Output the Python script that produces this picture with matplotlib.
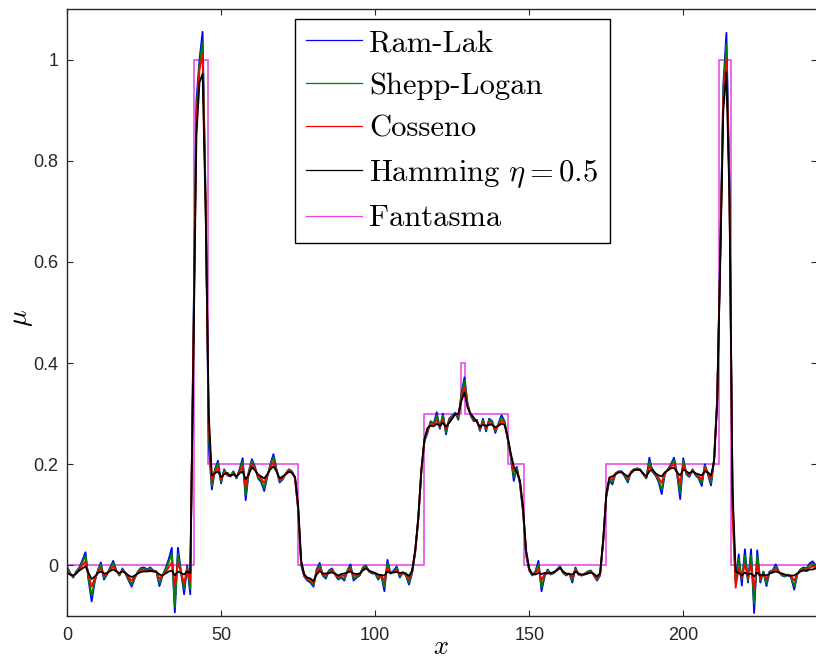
"""
Perfil central da reconstrucao (FBP) com diferentes filtros vs fantasma.
Saida: out.png
"""
import numpy as np
import matplotlib
matplotlib.use("Agg")
import matplotlib.pyplot as plt

plt.rcParams["mathtext.fontset"] = "cm"

# posicoes das amostras do perfil
x = np.arange(0, 244)

# Hamming eta = 0.5 (preto)
hamming = [
    -0.015, -0.018, -0.020, -0.016, -0.010, -0.006, -0.002, -0.015, -0.027, -0.022,
    -0.015, -0.012, -0.016, -0.015, -0.011, -0.008, -0.012, -0.015, -0.012, -0.015,
    -0.020, -0.023, -0.020, -0.016, -0.013, -0.012, -0.012, -0.011, -0.012, -0.013,
    -0.018, -0.020, -0.016, -0.012, -0.010, -0.020, -0.012, -0.015, -0.018, -0.012,
    -0.015, 0.400, 0.850, 0.955, 0.972, 0.700, 0.300, 0.178, 0.182, 0.186,
    0.175, 0.180, 0.183, 0.177, 0.180, 0.176, 0.182, 0.186, 0.170, 0.180,
    0.194, 0.188, 0.180, 0.176, 0.172, 0.180, 0.190, 0.196, 0.186, 0.172,
    0.176, 0.180, 0.185, 0.183, 0.175, 0.120, 0.010, -0.018, -0.024, -0.026,
    -0.031, -0.018, -0.011, -0.016, -0.016, -0.015, -0.014, -0.016, -0.020, -0.017,
    -0.016, -0.014, -0.012, -0.016, -0.017, -0.016, -0.010, -0.006, -0.010, -0.013,
    -0.015, -0.018, -0.019, -0.020, -0.012, -0.015, -0.014, -0.013, -0.015, -0.014,
    -0.016, -0.021, -0.010, 0.030, 0.095, 0.190, 0.250, 0.272, 0.276, 0.275,
    0.280, 0.276, 0.282, 0.274, 0.282, 0.290, 0.299, 0.300, 0.325, 0.342,
    0.312, 0.300, 0.292, 0.284, 0.274, 0.278, 0.276, 0.278, 0.278, 0.273,
    0.276, 0.280, 0.278, 0.255, 0.222, 0.196, 0.184, 0.168, 0.115, 0.030,
    -0.006, -0.017, -0.018, -0.015, -0.017, -0.015, -0.016, -0.015, -0.013, -0.010,
    -0.005, -0.012, -0.016, -0.017, -0.018, -0.012, -0.016, -0.018, -0.018, -0.016,
    -0.014, -0.017, -0.022, -0.015, 0.050, 0.140, 0.174, 0.176, 0.180, 0.184,
    0.184, 0.180, 0.176, 0.182, 0.188, 0.189, 0.188, 0.182, 0.176, 0.186,
    0.190, 0.182, 0.178, 0.176, 0.184, 0.188, 0.192, 0.193, 0.184, 0.178,
    0.190, 0.186, 0.182, 0.186, 0.182, 0.180, 0.178, 0.186, 0.184, 0.178,
    0.205, 0.320, 0.600, 0.900, 0.975, 0.720, 0.150, -0.012, -0.015, -0.020,
    -0.014, -0.018, -0.016, -0.022, -0.014, -0.020, -0.018, -0.020, -0.016, -0.014,
    -0.012, -0.014, -0.016, -0.018, -0.020, -0.020, -0.020, -0.016, -0.012, -0.010,
    -0.011, -0.008, -0.008, -0.006,
]

# Ram-Lak (azul)
ram_lak = [
    -0.002, -0.015, -0.024, -0.012, -0.004, 0.010, 0.026, -0.030, -0.071, -0.032,
    -0.010, 0.006, -0.028, -0.018, -0.004, 0.009, -0.010, -0.020, -0.006, -0.016,
    -0.030, -0.042, -0.025, -0.012, -0.005, -0.004, -0.008, -0.004, -0.010, -0.012,
    -0.041, -0.020, -0.006, 0.012, 0.035, -0.093, 0.035, -0.012, -0.057, 0.000,
    -0.057, 0.450, 0.920, 1.000, 1.055, 0.720, 0.240, 0.150, 0.190, 0.207,
    0.162, 0.190, 0.178, 0.176, 0.186, 0.172, 0.190, 0.212, 0.129, 0.186,
    0.210, 0.195, 0.172, 0.165, 0.147, 0.175, 0.200, 0.220, 0.190, 0.164,
    0.170, 0.182, 0.190, 0.186, 0.172, 0.110, 0.000, -0.022, -0.030, -0.034,
    -0.042, -0.008, 0.005, -0.020, -0.026, -0.010, -0.006, -0.018, -0.028, -0.024,
    -0.030, -0.010, 0.002, -0.030, -0.024, -0.020, -0.004, 0.000, -0.012, -0.016,
    -0.016, -0.028, -0.020, -0.051, 0.011, -0.016, -0.010, -0.002, -0.024, -0.014,
    -0.020, -0.038, -0.015, 0.025, 0.090, 0.185, 0.245, 0.262, 0.285, 0.280,
    0.303, 0.270, 0.300, 0.259, 0.290, 0.296, 0.302, 0.288, 0.340, 0.372,
    0.320, 0.296, 0.285, 0.288, 0.266, 0.290, 0.265, 0.290, 0.285, 0.262,
    0.280, 0.297, 0.285, 0.250, 0.215, 0.167, 0.195, 0.160, 0.105, 0.020,
    -0.010, -0.020, -0.012, 0.009, -0.051, -0.022, -0.008, -0.018, -0.015, -0.008,
    -0.002, -0.015, -0.020, -0.016, -0.034, -0.004, -0.018, -0.020, -0.016, -0.012,
    -0.010, -0.020, -0.030, -0.020, 0.045, 0.135, 0.168, 0.160, 0.182, 0.186,
    0.186, 0.176, 0.164, 0.185, 0.190, 0.192, 0.190, 0.180, 0.172, 0.213,
    0.185, 0.178, 0.165, 0.141, 0.180, 0.190, 0.200, 0.213, 0.180, 0.131,
    0.212, 0.180, 0.175, 0.190, 0.178, 0.172, 0.157, 0.200, 0.180, 0.158,
    0.210, 0.330, 0.620, 0.950, 1.053, 0.750, 0.120, -0.030, 0.022, -0.040,
    0.032, -0.034, 0.032, -0.094, 0.030, -0.034, -0.012, -0.041, -0.012, -0.010,
    0.002, -0.012, -0.020, -0.022, -0.018, -0.024, -0.048, -0.018, -0.008, -0.004,
    -0.006, 0.004, 0.008, 0.000,
]

# Shepp-Logan (verde)
shepp_logan = [
    -0.005, -0.016, -0.023, -0.013, -0.006, 0.006, 0.019, -0.026, -0.060, -0.030,
    -0.011, 0.002, -0.025, -0.017, -0.006, 0.005, -0.011, -0.019, -0.008, -0.016,
    -0.028, -0.037, -0.024, -0.013, -0.007, -0.006, -0.009, -0.006, -0.010, -0.012,
    -0.035, -0.020, -0.009, 0.006, 0.024, -0.082, 0.023, -0.013, -0.047, -0.003,
    -0.047, 0.440, 0.900, 0.990, 1.035, 0.715, 0.260, 0.157, 0.188, 0.202,
    0.165, 0.188, 0.179, 0.176, 0.185, 0.173, 0.188, 0.206, 0.139, 0.185,
    0.206, 0.193, 0.174, 0.168, 0.153, 0.176, 0.198, 0.214, 0.189, 0.166,
    0.171, 0.182, 0.189, 0.185, 0.173, 0.112, 0.002, -0.021, -0.028, -0.032,
    -0.039, -0.010, 0.001, -0.019, -0.023, -0.011, -0.008, -0.017, -0.026, -0.022,
    -0.027, -0.011, -0.002, -0.026, -0.022, -0.019, -0.005, -0.001, -0.011, -0.015,
    -0.016, -0.026, -0.020, -0.043, 0.005, -0.016, -0.011, -0.005, -0.022, -0.014,
    -0.019, -0.034, -0.014, 0.026, 0.091, 0.186, 0.246, 0.265, 0.283, 0.279,
    0.297, 0.272, 0.296, 0.263, 0.288, 0.295, 0.301, 0.291, 0.336, 0.365,
    0.318, 0.297, 0.287, 0.287, 0.268, 0.287, 0.268, 0.287, 0.283, 0.265,
    0.279, 0.293, 0.283, 0.251, 0.217, 0.174, 0.192, 0.162, 0.108, 0.022,
    -0.009, -0.019, -0.013, 0.003, -0.043, -0.020, -0.010, -0.017, -0.015, -0.008,
    -0.003, -0.014, -0.019, -0.016, -0.030, -0.006, -0.018, -0.020, -0.017, -0.013,
    -0.011, -0.019, -0.028, -0.019, 0.046, 0.136, 0.170, 0.164, 0.181, 0.185,
    0.185, 0.177, 0.167, 0.184, 0.190, 0.191, 0.190, 0.181, 0.173, 0.206,
    0.186, 0.179, 0.168, 0.150, 0.181, 0.190, 0.198, 0.208, 0.181, 0.143,
    0.207, 0.182, 0.177, 0.189, 0.179, 0.174, 0.163, 0.197, 0.181, 0.163,
    0.209, 0.327, 0.615, 0.940, 1.030, 0.740, 0.125, -0.035, 0.013, -0.027,
    0.020, -0.030, 0.020, -0.076, 0.019, -0.030, -0.013, -0.036, -0.013, -0.011,
    -0.002, -0.013, -0.019, -0.021, -0.019, -0.023, -0.042, -0.018, -0.009, -0.006,
    -0.007, 0.001, 0.004, -0.002,
]

# Cosseno (vermelho)
cosseno = [
    -0.011, -0.017, -0.021, -0.015, -0.008, 0.000, 0.008, -0.020, -0.042, -0.026,
    -0.013, -0.006, -0.020, -0.016, -0.009, -0.002, -0.011, -0.017, -0.010, -0.015,
    -0.024, -0.030, -0.022, -0.015, -0.010, -0.009, -0.011, -0.009, -0.011, -0.013,
    -0.026, -0.020, -0.013, -0.004, 0.006, -0.040, 0.005, -0.014, -0.036, -0.008,
    -0.032, 0.420, 0.880, 0.980, 1.010, 0.710, 0.280, 0.168, 0.185, 0.193,
    0.170, 0.184, 0.181, 0.177, 0.182, 0.175, 0.185, 0.195, 0.156, 0.182,
    0.200, 0.190, 0.177, 0.172, 0.163, 0.178, 0.194, 0.204, 0.187, 0.169,
    0.174, 0.181, 0.187, 0.184, 0.174, 0.116, 0.006, -0.019, -0.026, -0.029,
    -0.035, -0.014, -0.005, -0.017, -0.019, -0.013, -0.011, -0.017, -0.023, -0.019,
    -0.021, -0.013, -0.007, -0.021, -0.019, -0.017, -0.008, -0.004, -0.011, -0.014,
    -0.015, -0.022, -0.019, -0.031, -0.004, -0.015, -0.013, -0.009, -0.018, -0.014,
    -0.017, -0.027, -0.012, 0.028, 0.093, 0.188, 0.248, 0.268, 0.279, 0.277,
    0.288, 0.274, 0.288, 0.269, 0.285, 0.292, 0.300, 0.296, 0.330, 0.352,
    0.315, 0.299, 0.290, 0.285, 0.271, 0.282, 0.272, 0.282, 0.280, 0.269,
    0.277, 0.286, 0.280, 0.253, 0.220, 0.186, 0.188, 0.165, 0.112, 0.026,
    -0.007, -0.018, -0.016, -0.007, -0.029, -0.017, -0.013, -0.016, -0.014, -0.009,
    -0.004, -0.013, -0.017, -0.017, -0.024, -0.009, -0.017, -0.019, -0.017, -0.015,
    -0.013, -0.018, -0.025, -0.017, 0.048, 0.138, 0.172, 0.170, 0.181, 0.185,
    0.185, 0.179, 0.172, 0.183, 0.189, 0.190, 0.189, 0.181, 0.175, 0.195,
    0.188, 0.181, 0.173, 0.163, 0.183, 0.189, 0.195, 0.200, 0.183, 0.162,
    0.198, 0.184, 0.180, 0.187, 0.181, 0.177, 0.170, 0.191, 0.183, 0.171,
    0.207, 0.324, 0.607, 0.920, 1.000, 0.730, 0.100, -0.044, -0.005, -0.023,
    0.002, -0.024, 0.001, -0.047, 0.002, -0.025, -0.016, -0.027, -0.015, -0.013,
    -0.007, -0.013, -0.017, -0.019, -0.019, -0.021, -0.030, -0.017, -0.011, -0.008,
    -0.009, -0.004, -0.002, -0.004,
]

# Fantasma: perfil por degraus (bordas e niveis)
fantasma_bordas = [0, 41.3, 45.8, 75.1, 115.7, 127.8, 129.2, 143.2, 148.3,
                   174.9, 211.5, 215.4, 243.4]
fantasma_niveis = [0, 1.0, 0.2, 0, 0.3, 0.4, 0.3, 0.2, 0, 0.2, 1.0, 0]

fig = plt.figure(figsize=(8.16, 6.6), dpi=100)
ax = fig.add_axes([67 / 816, 44 / 660, 750 / 816, 607 / 660])

lw = 1.3
ax.plot(x, ram_lak, color="b", lw=lw, label="Ram-Lak")
ax.plot(x, shepp_logan, color=(0, 0.5, 0), lw=lw, label="Shepp-Logan")
ax.plot(x, cosseno, color="r", lw=lw, label="Cosseno")
ax.plot(x, hamming, color="k", lw=lw, label=r"Hamming $\eta = 0.5$ ")
ax.stairs(fantasma_niveis, fantasma_bordas, baseline=None, color=(0.9, 0.25, 0.9),
          lw=1.1, label="Fantasma")

ax.set_xlim(0, 243.4)
ax.set_ylim(-0.1, 1.1)
ax.set_xticks([0, 50, 100, 150, 200])
ax.set_yticks([0, 0.2, 0.4, 0.6, 0.8, 1])
ax.set_yticklabels(["0", "0.2", "0.4", "0.6", "0.8", "1"])
ax.tick_params(direction="in", length=4, top=True, right=True,
               labelsize=13, colors="#262626")
ax.tick_params(axis="x", pad=8)
ax.tick_params(axis="y", pad=6)
for lab in ax.get_xticklabels() + ax.get_yticklabels():
    lab.set_family("Liberation Sans")
for s in ax.spines.values():
    s.set_color("#262626")
    s.set_linewidth(1.0)

ax.set_xlabel("$x$", fontsize=19)
ax.xaxis.set_label_coords((441 - 67) / 750, -(647 - 616) / 607, transform=ax.transAxes)
ax.xaxis.label.set_verticalalignment("center")
ax.set_ylabel(r"$\mu$", fontsize=20)
ax.yaxis.set_label_coords(-(67 - 21) / 750, (616 - 318) / 607, transform=ax.transAxes)
ax.yaxis.label.set_verticalalignment("center")

leg = ax.legend(loc="upper left", bbox_to_anchor=(295 / 816, 1 - 19 / 660),
                bbox_transform=fig.transFigure, prop={"family": "cmr10", "size": 22},
                fancybox=False, framealpha=1, edgecolor="k", handlelength=1.85,
                handletextpad=0.22, labelspacing=0.5, borderpad=0.35,
                borderaxespad=0)
leg.get_frame().set_linewidth(1.0)
for h in leg.get_lines():
    h.set_linewidth(0.9)

fig.savefig("out.png", dpi=100)
